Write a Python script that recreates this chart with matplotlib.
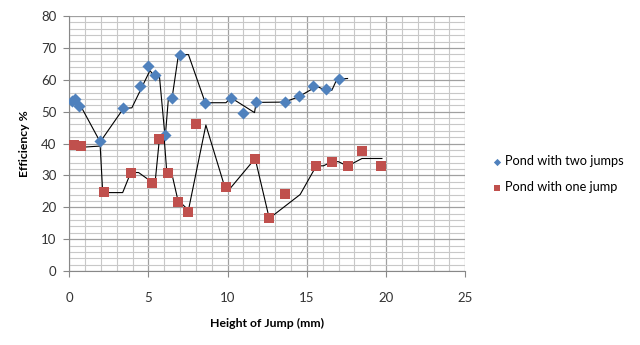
import matplotlib
matplotlib.use("Agg")
import matplotlib.pyplot as plt
from matplotlib.ticker import MultipleLocator

# points
two_x = [0.2, 0.4, 0.63, 1.96, 3.43, 4.48, 5.0, 5.39, 6.06, 6.5, 7.0, 8.59,
         10.2, 10.96, 11.8, 13.6, 14.5, 15.4, 16.2, 17.06]
two_y = [53.2, 54.0, 51.7, 40.8, 51.3, 58.0, 64.4, 61.4, 42.6, 54.4, 67.9, 52.8,
         54.4, 49.6, 52.9, 53.0, 54.9, 58.2, 57.0, 60.4]

one_x = [0.32, 0.76, 2.23, 3.89, 5.26, 5.7, 6.21, 6.9, 7.49, 8.02, 9.91,
         11.74, 12.63, 13.6, 15.6, 16.58, 17.57, 18.48, 19.68]
one_y = [39.5, 39.2, 24.7, 30.8, 27.7, 41.4, 30.6, 21.7, 18.4, 46.0, 26.2,
         35.1, 16.5, 24.2, 33.0, 34.3, 33.0, 37.7, 33.0]

# thin black trend lines (vertices)
two_tx = [0.27, 0.74, 1.96, 3.43, 3.96, 5.1, 5.39, 5.7, 6.06, 6.27, 6.5, 6.9,
          7.53, 8.59, 9.9, 10.2, 11.7, 11.8, 13.6, 14.5, 15.4, 15.6, 16.2,
          16.58, 16.9, 17.57]
two_ty = [53.8, 51.7, 40.5, 51.0, 51.2, 62.9, 61.1, 61.1, 41.7, 54.4, 54.4,
          67.9, 67.9, 52.8, 52.8, 54.4, 49.7, 52.9, 53.0, 54.7, 57.3, 58.0,
          56.7, 56.7, 60.2, 60.4]

one_tx = [0.38, 0.69, 1.96, 2.12, 3.38, 3.89, 4.38, 5.0, 5.43, 5.7, 6.0, 6.17,
          6.48, 6.86, 7.53, 8.63, 9.85, 10.16, 11.74, 12.63, 14.58, 15.6,
          16.05, 16.58, 17.0, 17.57, 18.48, 19.74]
one_ty = [39.5, 38.8, 39.2, 24.6, 24.6, 30.9, 30.9, 28.7, 28.0, 41.6, 41.6,
          30.6, 30.6, 22.3, 19.1, 45.8, 25.9, 25.9, 35.3, 16.5, 24.0, 33.0,
          33.0, 34.3, 34.3, 32.9, 35.3, 35.3]

plt.rcParams['font.family'] = ['Lato', 'DejaVu Sans']

fig = plt.figure(figsize=(6.4, 3.45), dpi=100)
ax = fig.add_axes([0.108, 0.2145, 0.619, 0.739])

ax.plot(two_tx, two_ty, color='black', linewidth=0.8, zorder=2)
ax.plot(one_tx, one_ty, color='black', linewidth=0.8, zorder=2)
ax.scatter(two_x, two_y, marker='D', s=38, color='#4F81BD', zorder=3,
           label='Pond with two jumps', linewidths=0)
ax.scatter(one_x, one_y, marker='s', s=62, color='#C0504D', zorder=3,
           label='Pond with one jump', linewidths=0)

ax.set_xlim(0, 25)
ax.set_ylim(0, 80)
ax.xaxis.set_major_locator(MultipleLocator(5))
ax.xaxis.set_minor_locator(MultipleLocator(1))
ax.yaxis.set_major_locator(MultipleLocator(10))
ax.yaxis.set_minor_locator(MultipleLocator(2))
ax.grid(which='major', color='#A0A0A0', linewidth=0.9)
ax.grid(which='minor', color='#C8C8C8', linewidth=0.8)
ax.set_axisbelow(True)

for s in ['top', 'right']:
    ax.spines[s].set_visible(False)
for s in ['left', 'bottom']:
    ax.spines[s].set_color('#888888')
ax.tick_params(which='major', length=4, color='#888888', labelsize=9.5,
               labelcolor='#333333', pad=11)
ax.tick_params(which='minor', length=0)
ax.tick_params(axis='y', pad=5)

ax.set_xlabel('Height of Jump (mm)', fontsize=8.8, fontweight='bold', labelpad=10)
ax.set_ylabel('Efficiency %', fontsize=8.8, fontweight='bold', labelpad=8)

leg = fig.legend(loc='upper left', bbox_to_anchor=(491 / 640, 1 - 155 / 345),
                 frameon=False, fontsize=9.2, handletextpad=0.1,
                 handlelength=1.0, labelspacing=1.1, borderaxespad=0,
                 borderpad=0, markerscale=0.6)

fig.savefig('out.png', dpi=100)
